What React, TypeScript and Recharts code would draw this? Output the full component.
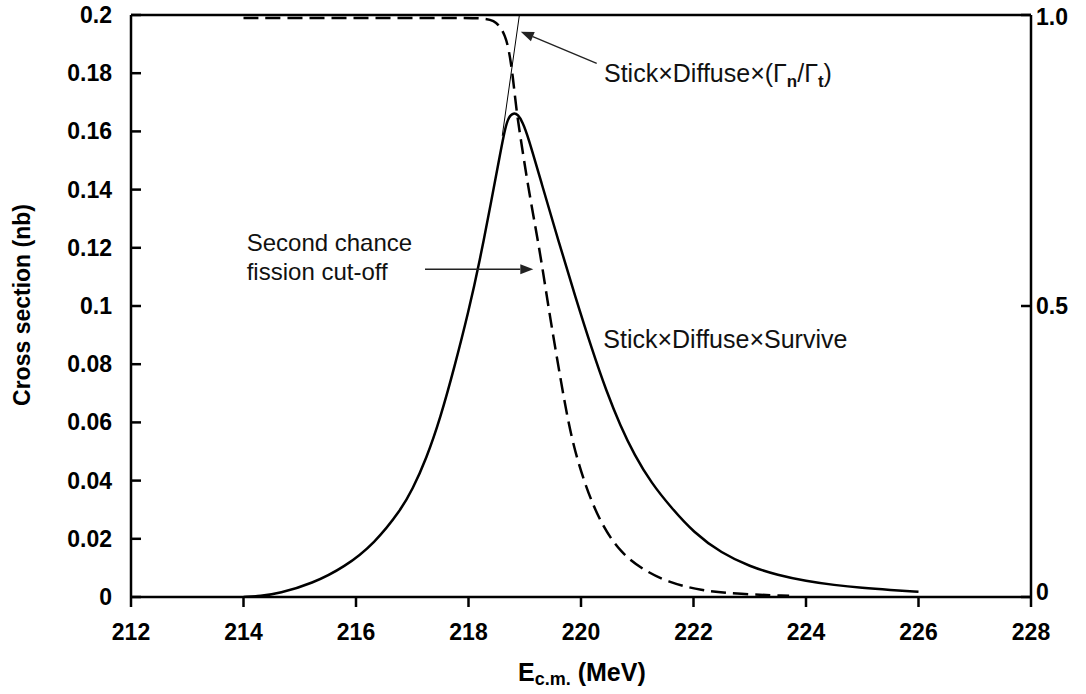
import React from 'react';
import { LineChart, Line, XAxis, YAxis, ReferenceLine, ReferenceDot, Label } from 'recharts';

const FONT = '"Liberation Sans", Arial, Helvetica, sans-serif';

// Axis ticks
const xTicks = [212, 214, 216, 218, 220, 222, 224, 226, 228];
const leftTicks = [0, 0.02, 0.04, 0.06, 0.08, 0.1, 0.12, 0.14, 0.16, 0.18, 0.2];
const leftTickLabels = ['0', '0.02', '0.04', '0.06', '0.08', '0.1', '0.12', '0.14', '0.16', '0.18', '0.2'];
const rightTicks = [0, 0.5, 1];
const rightTickLabels = ['0', '0.5', '1.0'];

// Stick x Diffuse x Survive (nb, left axis)
const survE = [214, 214.3, 214.63, 215.22, 215.8, 216.33, 216.8, 217.0, 217.25, 217.5, 217.75, 218.0, 218.2, 218.4, 218.55, 218.65, 218.72, 218.8, 218.88, 218.96, 219.05, 219.3, 219.6, 219.9, 220.2, 220.45, 220.7, 220.95, 221.25, 221.6, 222.0, 222.5, 223.0, 223.5, 224.0, 224.5, 225.0, 225.5, 226.0];
const survV = [0, 0.0003, 0.0012, 0.0046, 0.0103, 0.0184, 0.03, 0.0368, 0.0475, 0.0615, 0.079, 0.098, 0.1155, 0.1355, 0.151, 0.1612, 0.1652, 0.1664, 0.1658, 0.1632, 0.1588, 0.1421, 0.1223, 0.1031, 0.0848, 0.0708, 0.0588, 0.0488, 0.0392, 0.0308, 0.0222, 0.015, 0.0105, 0.0075, 0.0055, 0.0041, 0.0031, 0.0024, 0.0018];

// Second chance fission cut-off (Gamma_n / Gamma_t, right axis)
const cutE = [214, 215, 216, 217, 218, 218.3, 218.45, 218.55, 218.65, 218.72, 218.79, 218.85, 218.94, 219.05, 219.2, 219.3, 219.45, 219.65, 219.82, 220.06, 220.35, 220.71, 221.12, 221.53, 222.12, 222.82, 223.7];
const cutV = [0.995, 0.995, 0.995, 0.995, 0.995, 0.994, 0.99, 0.982, 0.965, 0.94, 0.894, 0.837, 0.78, 0.711, 0.63, 0.575, 0.48, 0.367, 0.275, 0.195, 0.126, 0.075, 0.046, 0.026, 0.011, 0.005, 0.002];

// Stick x Diffuse x (Gamma_n/Gamma_t) thin curve (left axis, runs off the top)
const thinE = [218.6, 218.905, 218.96];
const thinV = [0.1585, 0.2, 0.207];

const survData = survE.map((e, i) => ({ e, v: survV[i] }));
const cutData = cutE.map((e, i) => ({ e, v: cutV[i] }));
const thinData = thinE.map((e, i) => ({ e, v: thinV[i] }));

const XTick = (props: any) => {
  const { x, y, payload } = props;
  return (
    <g>
      <line x1={x} x2={x} y1={y} y2={y + 10} stroke="#000" strokeWidth={2.5} />
      <text x={x} y={y + 43} textAnchor="middle" fontFamily={FONT} fontWeight="bold" fontSize={23} fill="#000">
        {String(payload.value)}
      </text>
    </g>
  );
};

const LeftTick = (props: any) => {
  const { x, y, payload } = props;
  const idx = leftTicks.findIndex((t) => Math.abs(t - payload.value) < 1e-9);
  return (
    <g>
      <line x1={x} x2={x + 10} y1={y} y2={y} stroke="#000" strokeWidth={2.5} />
      <text x={x - 19} y={y + 8} textAnchor="end" fontFamily={FONT} fontWeight="bold" fontSize={23} fill="#000">
        {leftTickLabels[idx]}
      </text>
    </g>
  );
};

const RightTick = (props: any) => {
  const { x, y, payload } = props;
  const idx = rightTicks.findIndex((t) => Math.abs(t - payload.value) < 1e-9);
  const shift = payload.value === 0 ? -5 : payload.value === 1 ? 2 : 0;
  return (
    <g>
      <line x1={x - 10} x2={x} y1={y} y2={y} stroke="#000" strokeWidth={2.5} />
      <text x={x + 5} y={y + 8 + shift} textAnchor="start" fontFamily={FONT} fontWeight="bold" fontSize={23} fill="#000">
        {rightTickLabels[idx]}
      </text>
    </g>
  );
};

const Arrow = (props: any) => {
  const { x1, y1, x2, y2 } = props;
  const ang = Math.atan2(y2 - y1, x2 - x1);
  const L = 13;
  const W = 5;
  const bx = x2 - L * Math.cos(ang);
  const by = y2 - L * Math.sin(ang);
  const p1x = bx + W * Math.sin(ang);
  const p1y = by - W * Math.cos(ang);
  const p2x = bx - W * Math.sin(ang);
  const p2y = by + W * Math.cos(ang);
  return (
    <g>
      <line x1={x1} y1={y1} x2={bx} y2={by} stroke="#222" strokeWidth={1.4} />
      <polygon points={`${x2},${y2} ${p1x},${p1y} ${p2x},${p2y}`} fill="#222" />
    </g>
  );
};

const textStyle = { fontFamily: FONT, fill: '#111' };

const SecondChanceText = (p: any) => (
  <text x={p.cx} y={p.cy} fontSize={24} {...textStyle}>Second chance</text>
);
const FissionText = (p: any) => (
  <text x={p.cx} y={p.cy} fontSize={24} {...textStyle}>fission cut-off</text>
);
const GammaText = (p: any) => (
  <text x={p.cx} y={p.cy} fontSize={25} {...textStyle}>
    Stick×Diffuse×(Γ
    <tspan dy={5} fontSize={17} fontWeight="bold">n</tspan>
    <tspan dy={-5}>/Γ</tspan>
    <tspan dy={5} fontSize={17} fontWeight="bold">t</tspan>
    <tspan dy={-5}>)</tspan>
  </text>
);
const SurviveText = (p: any) => (
  <text x={p.cx} y={p.cy} fontSize={25} {...textStyle}>Stick×Diffuse×Survive</text>
);

const YTitle = () => (
  <text
    x={30}
    y={305}
    transform="rotate(-90 30 305)"
    textAnchor="middle"
    fontFamily={FONT}
    fontWeight="bold"
    fontSize={23}
    fill="#000"
  >
    Cross section (nb)
  </text>
);

const XTitle = () => (
  <text x={518} y={681} textAnchor="start" fontFamily={FONT} fontWeight="bold" fontSize={25} fill="#000">
    E
    <tspan dy={4} fontSize={18}>c.m.</tspan>
    <tspan dy={-4}> (MeV)</tspan>
  </text>
);

export default function App() {
  return (
    <div style={{ position: 'absolute', left: 0, top: 0, width: 1086, height: 694, background: '#fff' }}>
      <LineChart width={1086} height={694} margin={{ top: 15, right: 0, bottom: 0, left: 0 }}>
        <XAxis
          type="number"
          dataKey="e"
          domain={[212, 228]}
          ticks={xTicks}
          interval={0}
          allowDataOverflow
          height={97}
          tickLine={false}
          tickSize={0}
          tickMargin={0}
          tick={XTick}
          axisLine={{ stroke: '#000', strokeWidth: 2.5 }}
          label={<Label content={XTitle} />}
        />
        <YAxis
          yAxisId="left"
          orientation="left"
          type="number"
          domain={[0, 0.2]}
          ticks={leftTicks}
          interval={0}
          allowDataOverflow
          width={131}
          tickLine={false}
          tickSize={0}
          tickMargin={0}
          tick={LeftTick}
          axisLine={{ stroke: '#000', strokeWidth: 2.5 }}
          label={<Label content={YTitle} />}
        />
        <YAxis
          yAxisId="right"
          orientation="right"
          type="number"
          domain={[0, 1]}
          ticks={rightTicks}
          interval={0}
          allowDataOverflow
          width={55}
          tickLine={false}
          tickSize={0}
          tickMargin={0}
          tick={RightTick}
          axisLine={{ stroke: '#000', strokeWidth: 2.5 }}
        />
        <ReferenceLine yAxisId="left" y={0.2} stroke="#000" strokeWidth={2.5} />
        <Line
          yAxisId="left"
          data={thinData}
          dataKey="v"
          type="linear"
          stroke="#000"
          strokeWidth={1}
          dot={false}
          activeDot={false}
          isAnimationActive={false}
        />
        <Line
          yAxisId="right"
          data={cutData}
          dataKey="v"
          type="basis"
          stroke="#000"
          strokeWidth={2.5}
          strokeDasharray="15 7"
          dot={false}
          activeDot={false}
          isAnimationActive={false}
        />
        <Line
          yAxisId="left"
          data={survData}
          dataKey="v"
          type="basis"
          stroke="#000"
          strokeWidth={2.5}
          dot={false}
          activeDot={false}
          isAnimationActive={false}
        />
        <ReferenceLine
          yAxisId="left"
          segment={[{ x: 217.227, y: 0.11261 }, { x: 219.152, y: 0.11261 }]}
          shape={Arrow}
          ifOverflow="visible"
        />
        <ReferenceLine
          yAxisId="left"
          segment={[{ x: 220.279, y: 0.1834 }, { x: 218.93, y: 0.19426 }]}
          shape={Arrow}
          ifOverflow="visible"
        />
        <ReferenceDot yAxisId="left" x={214.057} y={0.119} r={0} shape={SecondChanceText} ifOverflow="visible" />
        <ReferenceDot yAxisId="left" x={214.057} y={0.10893} r={0} shape={FissionText} ifOverflow="visible" />
        <ReferenceDot yAxisId="left" x={220.409} y={0.17708} r={0} shape={GammaText} ifOverflow="visible" />
        <ReferenceDot yAxisId="left" x={220.396} y={0.08567} r={0} shape={SurviveText} ifOverflow="visible" />
      </LineChart>
    </div>
  );
}
